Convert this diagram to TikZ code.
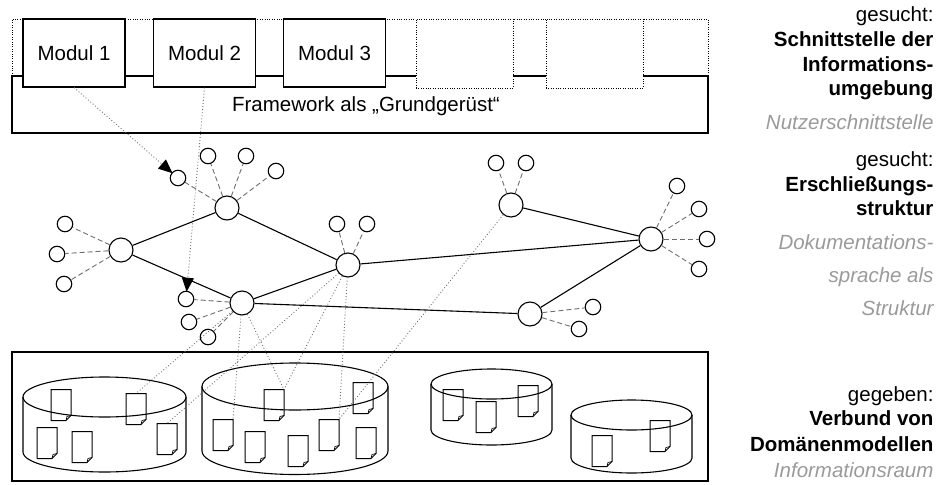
\documentclass[tikz,border=0pt]{standalone}
\usepackage{fontspec}
\setmainfont{Liberation Sans}
\usetikzlibrary{arrows.meta}
\definecolor{lbl}{HTML}{9A9A9A}
\definecolor{lnk}{HTML}{6E6E6E}

\tikzset{
  txt/.style={font=\fontsize{20.5}{24}\selectfont},
  boxline/.style={draw=black,line width=1.1pt},
  modbox/.style={boxline,fill=white,minimum width=102pt,minimum height=68pt,inner sep=0pt,txt},
  emptybox/.style={draw=black,line width=0.8pt,dash pattern=on 0.8pt off 1.6pt,fill=white,minimum width=97pt,minimum height=69pt,inner sep=0pt},
  hub/.style={circle,boxline,fill=white,minimum size=24pt,inner sep=0pt},
  sat/.style={circle,boxline,fill=white,minimum size=15.5pt,inner sep=0pt},
  tie/.style={draw=black,line width=1.1pt},
  leaf/.style={draw=lnk,line width=0.9pt,dash pattern=on 5pt off 3pt},
  ref/.style={draw=lnk,line width=0.9pt,dash pattern=on 0.9pt off 2.2pt},
  pointer/.style={ref,-{Triangle[length=14pt,width=12pt,color=black]},shorten >=-1pt},
  docbox/.style={minimum width=20pt,minimum height=31pt,inner sep=0pt,outer sep=0pt},
  docline/.style={draw=black,line width=1pt,line join=miter},
  side/.style={txt,anchor=base east},
  sidegray/.style={side,text=lbl,font=\fontsize{20.5}{24}\selectfont\itshape},
  sidebold/.style={side,font=\fontsize{20.5}{24}\selectfont\bfseries}
}

% document icon with a folded lower right corner
\newcommand\docicon[2]{%
  \node[docbox] (#1) at (#2) {};
  \draw[docline] (#1.north west) -- (#1.north east) -- ([yshift=5pt]#1.south east)
    -- ([xshift=-5pt]#1.south east) -- (#1.south west) -- cycle;
  \draw[docline,line width=0.7pt] ([yshift=5pt]#1.south east) -- ([xshift=-4pt,yshift=4pt]#1.south east)
    -- ([xshift=-5pt]#1.south east);
}

% open cylinder: centre x, top y, bottom y, x radius, y radius
\newcommand\cylbody[5]{%
  \draw[boxline] (#1,#2) ellipse [x radius=#4pt, y radius=#5pt];
  \draw[boxline] ({#1-#4},#2) -- ({#1-#4},#3)
    arc[start angle=180, end angle=360, x radius=#4pt, y radius=#5pt] -- ({#1+#4},#2);
}

\begin{document}
\begin{tikzpicture}[x=1pt,y=-1pt]
\useasboundingbox (0,0) rectangle (946,485);

% ---------- framework ----------
\draw[boxline] (12,76) rectangle (708,133);
\draw[draw=black,line width=0.8pt,dash pattern=on 0.8pt off 1.6pt]
  (12,76) -- (12,19) -- (708,19) -- (708,76);
\node[modbox] (m1) at (74,53) {Modul 1};
\node[modbox] (m2) at (204.5,53) {Modul 2};
\node[modbox] (m3) at (334.5,53) {Modul 3};
\node[emptybox] (m4) at (464.5,53.5) {};
\node[emptybox] (m5) at (594.5,53.5) {};
\node[txt,anchor=base] (fw) at (366,111) {Framework als „Grundgerüst“};

% ---------- structure ----------
\node[hub] (A) at (227,208) {};
\node[hub] (B) at (121,250) {};
\node[hub] (C) at (348,265) {};
\node[hub] (D) at (242,303) {};
\node[hub] (E) at (511,205) {};
\node[hub] (F) at (651,239) {};
\node[hub] (G) at (530,314) {};

\node[sat] (a1) at (208,156) {};
\node[sat] (a2) at (246,156) {};
\node[sat] (a3) at (276,171) {};
\node[sat] (a4) at (178,178) {};
\node[sat] (b1) at (65,224) {};
\node[sat] (b2) at (57,254) {};
\node[sat] (b3) at (64,284) {};
\node[sat] (c1) at (337,224) {};
\node[sat] (c2) at (367,224) {};
\node[sat] (d1) at (186,299) {};
\node[sat] (d2) at (189,322) {};
\node[sat] (d3) at (208,337) {};
\node[sat] (e1) at (496,163) {};
\node[sat] (e2) at (526,163) {};
\node[sat] (f1) at (677,186) {};
\node[sat] (f2) at (699,209) {};
\node[sat] (f3) at (707,239) {};
\node[sat] (f4) at (699,269) {};
\node[sat] (g1) at (593,307) {};
\node[sat] (g2) at (579,329) {};

\foreach \h/\s in {A/a1,A/a2,A/a3,A/a4,B/b1,B/b2,B/b3,C/c1,C/c2,D/d1,D/d2,D/d3,
                   E/e1,E/e2,F/f1,F/f2,F/f3,F/f4,G/g1,G/g2}
  \draw[leaf] (\h) -- (\s);

\foreach \p/\q in {B/A,B/D,A/C,D/C,C/F,E/F,D/G,G/F}
  \draw[tie] (\p) -- (\q);

% ---------- information space ----------
\draw[boxline] (12,352) rectangle (708,481);
\cylbody{104.5}{397}{452}{81.5}{20}
\cylbody{295}{386.5}{451}{93}{23.5}
\cylbody{491.5}{384}{430}{60.5}{15}
\cylbody{631.5}{415}{458}{60.5}{15}

\docicon{p1a}{61,405}
\docicon{p1b}{136,409}
\docicon{p1c}{47,443}
\docicon{p1d}{82,447}
\docicon{p1e}{167,439}
\docicon{p2a}{274,405}
\docicon{p2b}{363,398}
\docicon{p2c}{223,435}
\docicon{p2d}{255,447}
\docicon{p2e}{298,451}
\docicon{p2f}{329,435}
\docicon{p2g}{366,443}
\docicon{p3a}{453,405}
\docicon{p3b}{486,417}
\docicon{p3c}{528,401}
\docicon{p4a}{602,451}
\docicon{p4b}{660,436}

% ---------- references ----------
\draw[ref] (D) -- (p1b.north);
\draw[ref] (D) -- (p2c.north east);
\draw[ref] (D) -- (p2a.north east);
\draw[ref] (C) -- (p1e.north);
\draw[ref] (C) -- (p2a.north east);
\draw[ref] (C) -- (p2f.north east);
\draw[ref] (E) -- (p2f.north east);

\draw[pointer] (m1.south) -- (a4);
\draw[pointer] (m2.south) -- (d1);

% ---------- side labels ----------
\node[side] (t1) at (937,21) {gesucht:};
\node[sidebold] (t2) at (937,46) {Schnittstelle der};
\node[sidebold] (t3) at (937,71) {Informations-};
\node[sidebold] (t4) at (937,95) {umgebung};
\node[sidegray] (t5) at (937,129) {Nutzerschnittstelle};

\node[side] (u1) at (937,166) {gesucht:};
\node[sidebold] (u2) at (937,191) {Erschließungs-};
\node[sidebold] (u3) at (937,215) {struktur};
\node[sidegray] (u4) at (937,249) {Dokumentations-};
\node[sidegray] (u5) at (937,282) {sprache als};
\node[sidegray] (u6) at (937,315) {Struktur};

\node[side] (v1) at (937,401) {gegeben:};
\node[sidebold] (v2) at (937,425) {Verbund von};
\node[sidebold] (v3) at (937,451) {Domänenmodellen};
\node[sidegray] (v4) at (937,477) {Informationsraum};
\end{tikzpicture}
\end{document}
